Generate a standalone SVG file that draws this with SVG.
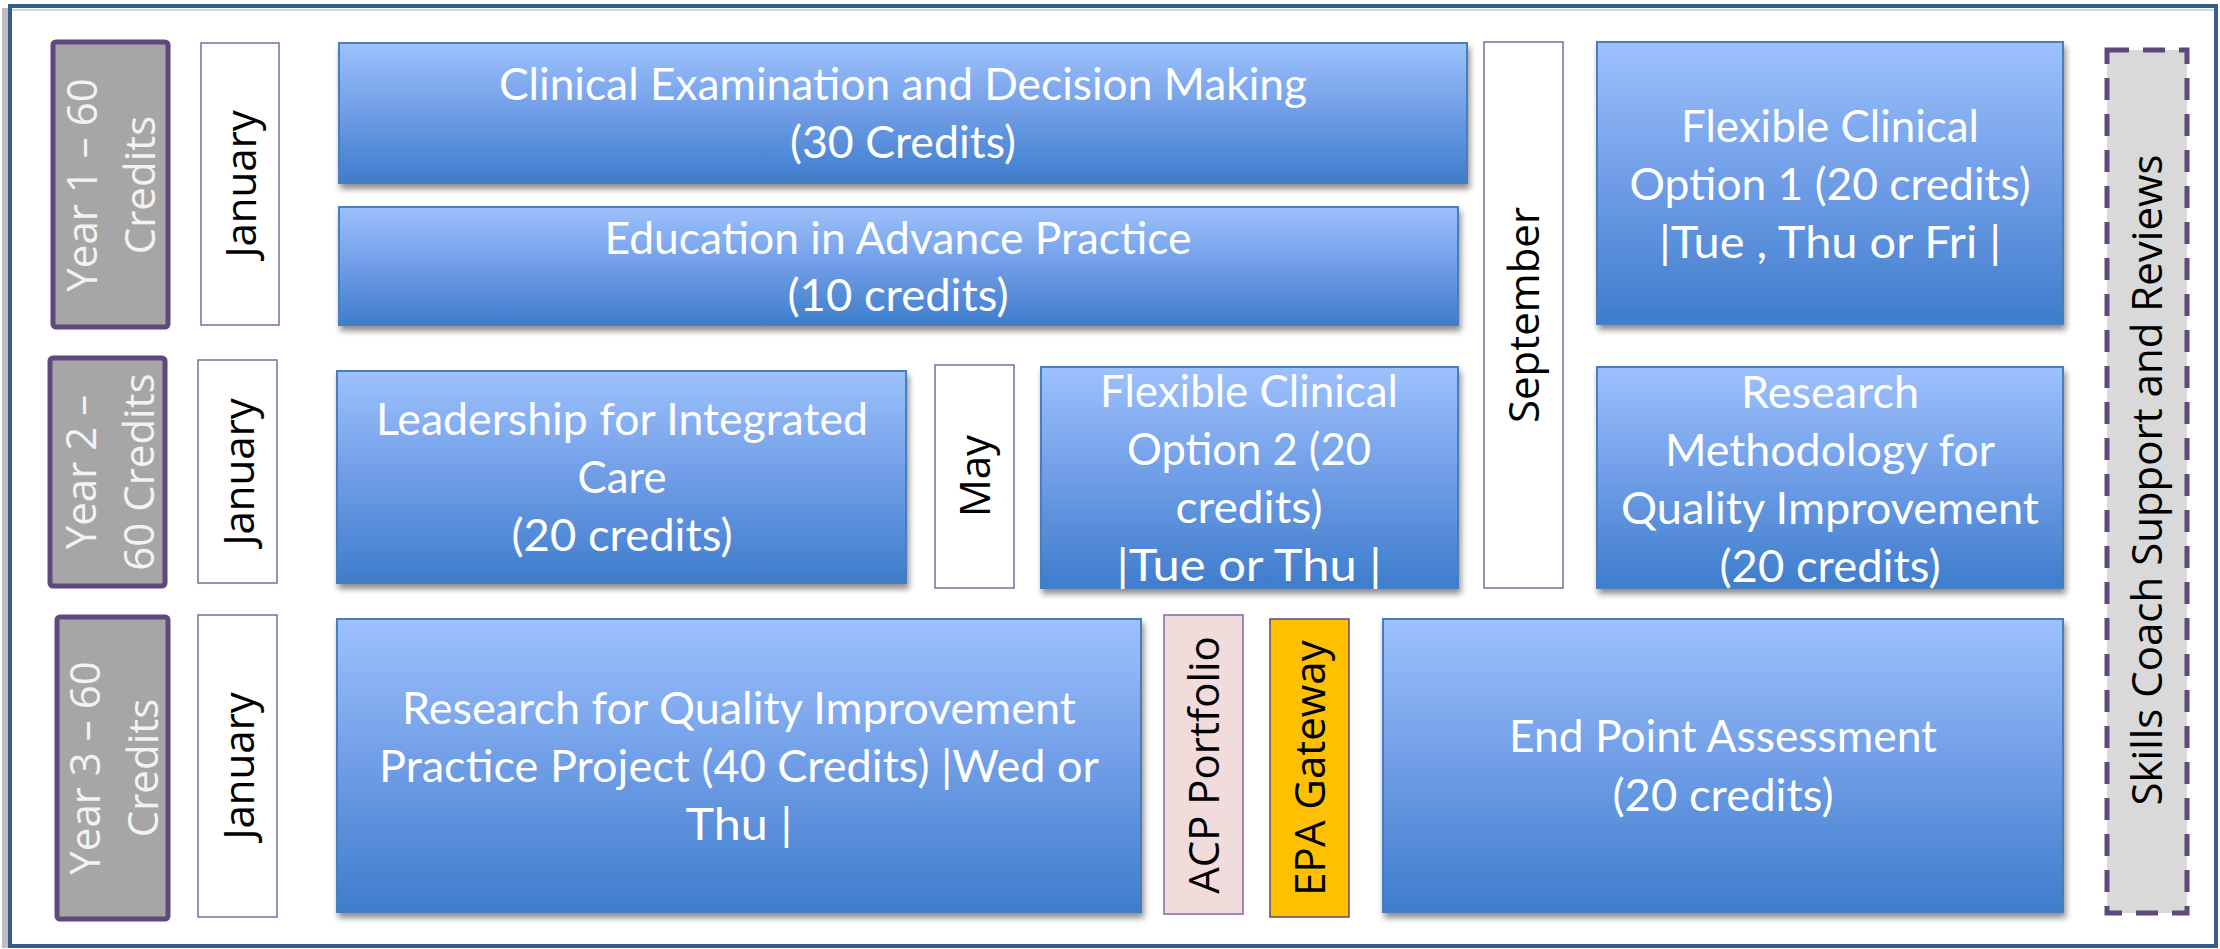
<svg xmlns="http://www.w3.org/2000/svg" width="2220" height="949" viewBox="0 0 2220 949">
<defs>
<linearGradient id="blue" x1="0" y1="0" x2="0" y2="1">
<stop offset="0" stop-color="#9dc1fc"/>
<stop offset="0.5" stop-color="#6f9de6"/>
<stop offset="1" stop-color="#3e7dcc"/>
</linearGradient>
<filter id="sh" x="-5%" y="-5%" width="112%" height="115%">
<feGaussianBlur in="SourceAlpha" stdDeviation="3"/>
<feOffset dx="2" dy="5" result="b"/>
<feComponentTransfer><feFuncA type="linear" slope="0.45"/></feComponentTransfer>
<feMerge><feMergeNode/><feMergeNode in="SourceGraphic"/></feMerge>
</filter>
<style>
.blue{fill:url(#blue);stroke:#4a7ebb;stroke-width:2;filter:url(#sh)}
.bt{font-family:Lato,"Liberation Sans",sans-serif;font-size:44px;fill:#ffffff;text-anchor:middle}
.year{fill:#a6a6a6;stroke:#5f497a;stroke-width:5}
.yt{font-family:"Open Sans","DejaVu Sans",sans-serif;font-size:42px;fill:#f2f2f2;text-anchor:middle}
.mon{fill:#ffffff;stroke:#7f6a9e;stroke-width:1.5}
.mt{font-family:"Open Sans","DejaVu Sans",sans-serif;font-size:42px;fill:#000000;text-anchor:middle}
</style>
</defs>
<rect x="0" y="0" width="2220" height="949" fill="#ffffff"/>
<g id="frame">
<rect x="2" y="8" width="2212" height="940" fill="#bfbfbf"/>
<rect x="10" y="6" width="2206" height="940" fill="#ffffff" stroke="#385d8a" stroke-width="4"/>
<line x1="12" y1="10" x2="2214" y2="10" stroke="#c6d9f1" stroke-width="2"/>
</g>
<g id="year1">
<rect class="year" x="53" y="42" width="115" height="285" rx="3"/>
<text class="yt" transform="translate(97,185) rotate(-90)">Year 1 – 60</text>
<text class="yt" transform="translate(155,185) rotate(-90)">Credits</text>
</g>
<g id="year2">
<rect class="year" x="50" y="358" width="115" height="228" rx="3"/>
<text class="yt" transform="translate(96,472) rotate(-90)">Year 2 –</text>
<text class="yt" transform="translate(154,472) rotate(-90)">60 Credits</text>
</g>
<g id="year3">
<rect class="year" x="57" y="617" width="111" height="302" rx="3"/>
<text class="yt" transform="translate(100,768) rotate(-90)">Year 3 – 60</text>
<text class="yt" transform="translate(158,768) rotate(-90)">Credits</text>
</g>
<g id="jan1">
<rect class="mon" x="201" y="43" width="78" height="282"/>
<text class="mt" transform="translate(256,184) rotate(-90)">January</text>
</g>
<g id="jan2">
<rect class="mon" x="198" y="360" width="79" height="223"/>
<text class="mt" transform="translate(254,472) rotate(-90)">January</text>
</g>
<g id="jan3">
<rect class="mon" x="198" y="615" width="79" height="302"/>
<text class="mt" transform="translate(254,766) rotate(-90)">January</text>
</g>
<g id="may">
<rect class="mon" x="935" y="365" width="79" height="223"/>
<text class="mt" transform="translate(990,476) rotate(-90)">May</text>
</g>
<g id="september">
<rect class="mon" x="1484" y="42" width="79" height="546"/>
<text class="mt" transform="translate(1539,315) rotate(-90)">September</text>
</g>
<g id="clinical">
<rect class="blue" x="339" y="43" width="1128" height="140"/>
<text class="bt" x="903" y="100" textLength="808" lengthAdjust="spacingAndGlyphs">Clinical Examination and Decision Making</text>
<text class="bt" x="903" y="158" textLength="226" lengthAdjust="spacingAndGlyphs">(30 Credits)</text>
</g>
<g id="education">
<rect class="blue" x="339" y="207" width="1119" height="118"/>
<text class="bt" x="898" y="254" textLength="587" lengthAdjust="spacingAndGlyphs">Education in Advance Practice</text>
<text class="bt" x="898" y="311" textLength="221" lengthAdjust="spacingAndGlyphs">(10 credits)</text>
</g>
<g id="flex1">
<rect class="blue" x="1597" y="42" width="466" height="282"/>
<text class="bt" x="1830" y="142" textLength="298" lengthAdjust="spacingAndGlyphs">Flexible Clinical</text>
<text class="bt" x="1830" y="200" textLength="401" lengthAdjust="spacingAndGlyphs">Option 1 (20 credits)</text>
<text class="bt" x="1830" y="258" textLength="342" lengthAdjust="spacingAndGlyphs">|Tue , Thu or Fri |</text>
</g>
<g id="leadership">
<rect class="blue" x="337" y="371" width="569" height="212"/>
<text class="bt" x="622" y="435" textLength="492" lengthAdjust="spacingAndGlyphs">Leadership for Integrated</text>
<text class="bt" x="622" y="493" textLength="89" lengthAdjust="spacingAndGlyphs">Care</text>
<text class="bt" x="622" y="551" textLength="221" lengthAdjust="spacingAndGlyphs">(20 credits)</text>
</g>
<g id="flex2">
<rect class="blue" x="1041" y="367" width="417" height="221"/>
<text class="bt" x="1249" y="407" textLength="298" lengthAdjust="spacingAndGlyphs">Flexible Clinical</text>
<text class="bt" x="1249" y="465" textLength="244" lengthAdjust="spacingAndGlyphs">Option 2 (20</text>
<text class="bt" x="1249" y="523" textLength="147" lengthAdjust="spacingAndGlyphs">credits)</text>
<text class="bt" x="1249" y="581" textLength="265" lengthAdjust="spacingAndGlyphs">|Tue or Thu |</text>
</g>
<g id="resmeth">
<rect class="blue" x="1597" y="367" width="466" height="221"/>
<text class="bt" x="1830" y="408" textLength="178" lengthAdjust="spacingAndGlyphs">Research</text>
<text class="bt" x="1830" y="466" textLength="330" lengthAdjust="spacingAndGlyphs">Methodology for</text>
<text class="bt" x="1830" y="524" textLength="418" lengthAdjust="spacingAndGlyphs">Quality Improvement</text>
<text class="bt" x="1830" y="582" textLength="221" lengthAdjust="spacingAndGlyphs">(20 credits)</text>
</g>
<g id="resqi">
<rect class="blue" x="337" y="619" width="804" height="293"/>
<text class="bt" x="739" y="724" textLength="674" lengthAdjust="spacingAndGlyphs">Research for Quality Improvement</text>
<text class="bt" x="739" y="782" textLength="720" lengthAdjust="spacingAndGlyphs">Practice Project (40 Credits) |Wed or</text>
<text class="bt" x="739" y="840" textLength="107" lengthAdjust="spacingAndGlyphs">Thu |</text>
</g>
<g id="acp">
<rect x="1164" y="615" width="79" height="299" fill="#f2dcdb" stroke="#7f6a9e" stroke-width="1.5"/>
<text class="mt" transform="translate(1219,765) rotate(-90)">ACP Portfolio</text>
</g>
<g id="epa">
<rect x="1270" y="619" width="79" height="298" fill="#ffc000" stroke="#5f497a" stroke-width="1.5"/>
<text class="mt" transform="translate(1325,768) rotate(-90)">EPA Gateway</text>
</g>
<g id="endpoint">
<rect class="blue" x="1383" y="619" width="680" height="293"/>
<text class="bt" x="1723" y="752" textLength="428" lengthAdjust="spacingAndGlyphs">End Point Assessment</text>
<text class="bt" x="1723" y="811" textLength="221" lengthAdjust="spacingAndGlyphs">(20 credits)</text>
</g>
<g id="skills">
<rect x="2107" y="50" width="80" height="863" fill="#d9d9d9" stroke="#5f497a" stroke-width="5" stroke-dasharray="22 14"/>
<text class="mt" transform="translate(2162,480) rotate(-90)">Skills Coach Support and Reviews</text>
</g>
<g id="connectors"></g>
</svg>
